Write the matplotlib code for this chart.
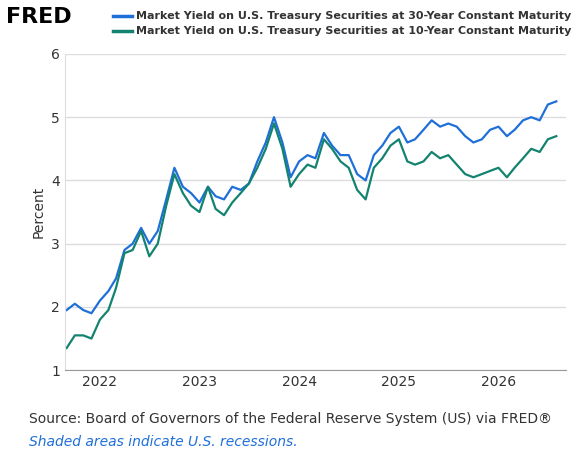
import matplotlib
matplotlib.use("Agg")
import matplotlib.pyplot as plt
import pandas as pd

dates = pd.date_range("2021-09-01", "2026-08-01", freq="MS")
y30 = [1.95,2.05,1.95,1.9,2.1,2.25,2.45,2.9,3.0,3.25,3.0,3.2,3.7,4.2,3.9,3.8,
       3.65,3.9,3.75,3.7,3.9,3.85,3.95,4.3,4.6,5.0,4.6,4.05,4.3,4.4,4.35,4.75,
       4.55,4.4,4.4,4.1,4.0,4.4,4.55,4.75,4.85,4.6,4.65,4.8,4.95,4.85,4.9,4.85,
       4.7,4.6,4.65,4.8,4.85,4.7,4.8,4.95,5.0,4.95,5.2,5.25]
y10 = [1.35,1.55,1.55,1.5,1.8,1.95,2.3,2.85,2.9,3.2,2.8,3.0,3.6,4.1,3.8,3.6,
       3.5,3.9,3.55,3.45,3.65,3.8,3.95,4.2,4.5,4.9,4.5,3.9,4.1,4.25,4.2,4.65,
       4.5,4.3,4.2,3.85,3.7,4.2,4.35,4.55,4.65,4.3,4.25,4.3,4.45,4.35,4.4,4.25,
       4.1,4.05,4.1,4.15,4.2,4.05,4.2,4.35,4.5,4.45,4.65,4.7]
label30 = "Market Yield on U.S. Treasury Securities at 30-Year Constant Maturity"
label10 = "Market Yield on U.S. Treasury Securities at 10-Year Constant Maturity"
c30, c10 = "#1f6fd9", "#13836f"

fig = plt.figure(figsize=(5.78, 4.57), dpi=100)
ax = fig.add_axes([0.112, 0.19, 0.867, 0.692])
ax.plot(dates, y30, color=c30, lw=1.6)
ax.plot(dates, y10, color=c10, lw=1.6)
ax.set_ylim(1, 6)
ax.set_xlim(pd.Timestamp("2021-08-25"), pd.Timestamp("2026-09-05"))
ax.set_yticks([1,2,3,4,5,6])
ax.set_xticks([pd.Timestamp(f"{y}-01-01") for y in range(2022, 2027)])
ax.set_xticklabels([str(y) for y in range(2022, 2027)])
ax.grid(axis="y", color="#dddddd", lw=1)
ax.set_axisbelow(True)
for s in ["top", "right"]:
    ax.spines[s].set_visible(False)
ax.spines["left"].set_color("#dddddd")
ax.spines["bottom"].set_color("#999999")
ax.tick_params(length=0, labelsize=10, colors="#333333")
ax.set_ylabel("Percent", fontsize=10, color="#333333")

fig.text(0.01, 0.962, "FRED", fontsize=16, fontweight="bold", va="center")
for yy, c, lab in [(0.965, c30, label30), (0.932, c10, label10)]:
    fig.add_artist(plt.Line2D([0.195, 0.228], [yy, yy], color=c, lw=2.5, transform=fig.transFigure))
    fig.text(0.236, yy, lab, fontsize=8, fontweight="bold", va="center", color="#333333")
fig.text(0.05, 0.075, "Source: Board of Governors of the Federal Reserve System (US) via FRED®", fontsize=10, color="#333333")
fig.text(0.05, 0.025, "Shaded areas indicate U.S. recessions.", fontsize=10, style="italic", color="#1f6fd9")
fig.savefig("out.png", dpi=100)
